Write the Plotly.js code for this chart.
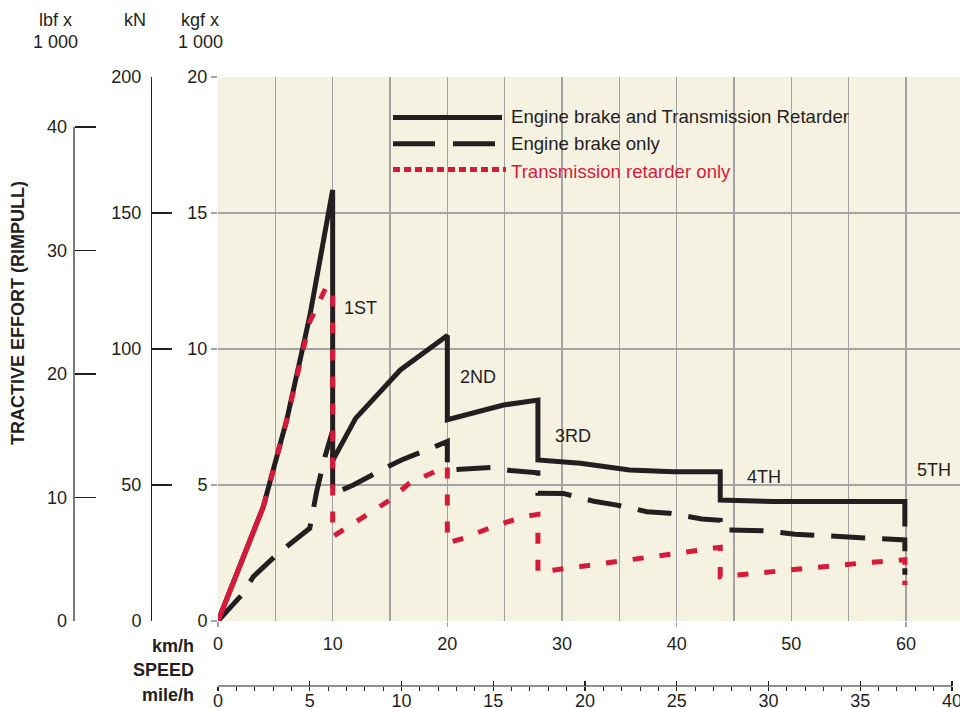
<!DOCTYPE html>
<html>
<head>
<meta charset="utf-8">
<script src="https://cdn.plot.ly/plotly-3.0.1.min.js"></script>
<style>
  html, body { margin: 0; padding: 0; background: #ffffff; }
  #chart { width: 960px; height: 708px; }
</style>
</head>
<body>
<div id="chart"></div>
<script>
// ---------- data (speed in km/h, effort in kN) ----------
const combinedKmh = [0, 3.95, 6.0, 8.0, 10, 10, 12.0, 15.9, 20, 20, 24.9, 27.9, 27.9, 31.6, 35.9, 39.7, 43.8, 43.8, 48.4, 59.9, 59.9];
const combinedKN  = [0, 42, 74, 112, 158.5, 59, 74.5, 92.3, 105, 74, 79.4, 81.2, 59.2, 58, 55.5, 54.9, 54.9, 44.5, 43.9, 43.9, 34.7];

const engineKmh = [0, 2.07, 3.08, 5.26, 8.0, 8.6, 9.33, 10, 10, 11.8, 14.7, 16.0, 19.07, 20, 20, 22.7, 24, 25.5, 27.9, 27.9, 30.1, 32.9, 34.8, 37.4, 39.4, 42.2, 43.8, 43.8, 47.6, 50.3, 51.8, 55, 56.6, 59.9, 59.9];
const engineKN  = [0, 9.6, 16.3, 24.9, 34.1, 47.5, 60.4, 70, 46.7, 50, 56.5, 59.2, 64.4, 66, 55.5, 56.1, 56.5, 55.3, 54.5, 47, 46.9, 43.9, 42.6, 40.2, 39.6, 37.5, 37, 33.5, 33.2, 31.9, 31.6, 30.8, 30.6, 29.8, 17];

const retarderKmh = [0, 3.95, 6.0, 8.0, 9.4, 10, 10, 12.7, 15, 16.7, 20, 20, 21.4, 24.0, 26.6, 27.9, 27.9, 31.6, 34, 36.4, 39.1, 41.4, 43.8, 43.8, 46.7, 49, 51.8, 54.1, 56.4, 59.9, 59.9];
const retarderKN  = [0, 42, 74, 110, 122.5, 122.5, 31, 38.3, 44.5, 50.7, 57, 28.7, 30.4, 34.7, 38.3, 39.2, 18, 20, 21.4, 22.8, 24.3, 25.7, 27.1, 16.3, 17.5, 18.5, 19.6, 20.6, 21.4, 22.5, 13.2];
const retarderSolidPoints = 2; // first segment drawn solid

const seriesNames = ['Engine brake and Transmission Retarder', 'Engine brake only', 'Transmission retarder only'];

const kmhTicks = [0, 10, 20, 30, 40, 50, 60];
const mphTicks = [0, 5, 10, 15, 20, 25, 30, 35, 40];
const knTicks = [0, 50, 100, 150, 200];
const kgfTickText = ['0', '5', '10', '15', '20'];
const lbfTicks = [0, 10, 20, 30, 40];

const gearLabels = ['1ST', '2ND', '3RD', '4TH', '5TH'];
const gearKmh = [10.8, 20.9, 29.2, 46.0, 60.8];
const gearKN = [115, 89.7, 68, 53, 55.5];

// ---------- styling ----------
const W = 960, H = 708;
const BLACK = '#231f20';
const RED = '#d71a3a';
const GRID = '#a3a3a3';
const FONT = 'Liberation Sans, Arial, Helvetica, sans-serif';
const px = v => v / W;          // horizontal pixel -> paper
const py = v => (H - v) / H;    // vertical pixel (from top) -> paper

const plotLeft = 218, plotRight = 960, plotTop = 77, plotBottom = 621;
const kmhPerPx = 60 / (906 - 218);
const xMax = (plotRight - plotLeft) * kmhPerPx;
const mphMax = 40 * (plotRight - plotLeft) / (952 - plotLeft);
const lbfMax = 40 * (plotBottom - plotTop) / (plotBottom - 127);

const traces = [
  { x: combinedKmh, y: combinedKN, mode: 'lines', name: seriesNames[0],
    line: { color: BLACK, width: 5 }, xaxis: 'x', yaxis: 'y' },
  { x: engineKmh, y: engineKN, mode: 'lines', name: seriesNames[1],
    line: { color: BLACK, width: 5, dash: '34px,17px' }, xaxis: 'x', yaxis: 'y' },
  { x: retarderKmh.slice(0, retarderSolidPoints), y: retarderKN.slice(0, retarderSolidPoints), mode: 'lines', name: seriesNames[2],
    line: { color: RED, width: 5 }, xaxis: 'x', yaxis: 'y' },
  { x: retarderKmh.slice(retarderSolidPoints - 1), y: retarderKN.slice(retarderSolidPoints - 1), mode: 'lines', name: seriesNames[2],
    line: { color: RED, width: 5, dash: '11px,16px' }, xaxis: 'x', yaxis: 'y' }
];
// empty traces so that the extra unit axes get drawn
[['x', 'y2'], ['x', 'y3'], ['x2', 'y'], ['x3', 'y'], ['x4', 'y']].forEach(p =>
  traces.push({ x: [null], y: [null], mode: 'lines', xaxis: p[0], yaxis: p[1], showlegend: false, hoverinfo: 'skip' }));

const tickFont = { family: FONT, size: 18, color: BLACK };
const boldFont = { family: FONT, size: 18, color: BLACK, weight: 700 };

const annotations = [];
gearLabels.forEach((t, i) => annotations.push({
  text: t, x: gearKmh[i], y: gearKN[i], xref: 'x', yref: 'y',
  xanchor: 'left', yanchor: 'middle', showarrow: false, font: tickFont
}));
// legend texts
const legendRows = [116, 143.5, 171];
const legendColors = [BLACK, BLACK, RED];
seriesNames.forEach((n, i) => annotations.push({
  text: n, x: px(509), y: py(legendRows[i]), xref: 'paper', yref: 'paper',
  xanchor: 'left', yanchor: 'middle', showarrow: false,
  font: { family: FONT, size: 18.6, color: legendColors[i] }
}));
// unit labels
[['lbf x', 55.5, 20], ['1 000', 55.5, 42], ['kN', 134.5, 20], ['kgf x', 200, 20], ['1 000', 200, 42]].forEach(a =>
  annotations.push({ text: a[0], x: px(a[1]), y: py(a[2]), xref: 'paper', yref: 'paper',
    xanchor: 'center', yanchor: 'middle', showarrow: false, font: tickFont }));
[['km/h', 646], ['SPEED', 670], ['mile/h', 695]].forEach(a =>
  annotations.push({ text: a[0], x: px(196), y: py(a[1]), xref: 'paper', yref: 'paper',
    xanchor: 'right', yanchor: 'middle', showarrow: false, font: boldFont }));
annotations.push({ text: 'TRACTIVE EFFORT (RIMPULL)', x: px(18), y: py(313), xref: 'paper', yref: 'paper',
  xanchor: 'center', yanchor: 'middle', textangle: -90, showarrow: false, font: boldFont });

const shapes = [
  // lbf axis line
  { type: 'line', xref: 'paper', yref: 'paper', x0: px(74), x1: px(74), y0: py(621), y1: py(127),
    line: { color: BLACK, width: 1.2 } },
  // mile/h axis line
  { type: 'line', xref: 'paper', yref: 'paper', x0: px(218), x1: px(952), y0: py(686), y1: py(686),
    line: { color: BLACK, width: 1.2 } },
  // legend samples
  { type: 'line', xref: 'paper', yref: 'paper', x0: px(393), x1: px(502), y0: py(117.5), y1: py(117.5),
    line: { color: BLACK, width: 5 } },
  { type: 'line', xref: 'paper', yref: 'paper', x0: px(393), x1: px(495), y0: py(143.7), y1: py(143.7),
    line: { color: BLACK, width: 5, dash: '42px,18px' } },
  { type: 'line', xref: 'paper', yref: 'paper', x0: px(393), x1: px(506), y0: py(169.5), y1: py(169.5),
    line: { color: RED, width: 5, dash: '7px,4px' } }
];

const layout = {
  width: W, height: H,
  margin: { l: 0, r: 0, t: 0, b: 0, pad: 0 },
  paper_bgcolor: '#ffffff',
  plot_bgcolor: '#f6f2e2',
  showlegend: false,
  hovermode: false,
  font: { family: FONT, size: 18, color: BLACK },
  xaxis: {
    domain: [px(plotLeft), 1], range: [0, xMax], anchor: 'y',
    tickmode: 'array', tickvals: kmhTicks, ticktext: kmhTicks.map(String),
    ticks: '', tickfont: tickFont, ticklabelstandoff: 10,
    showgrid: true, gridcolor: GRID, gridwidth: 1.6,
    minor: { tickmode: 'linear', tick0: 0, dtick: 5, showgrid: true, gridcolor: GRID, gridwidth: 1.6 },
    zeroline: false, showline: false, fixedrange: true
  },
  xaxis4: {
    overlaying: 'x', anchor: 'y', range: [0, xMax], side: 'bottom',
    tickmode: 'array', tickvals: [0, 20, 40, 60], ticks: 'outside', ticklen: 5,
    tickcolor: GRID, tickwidth: 1.6, showticklabels: false, showgrid: false, zeroline: false, showline: false
  },
  xaxis2: {
    overlaying: 'x', anchor: 'free', position: py(686), side: 'bottom', range: [0, mphMax],
    tickmode: 'array', tickvals: mphTicks, ticktext: mphTicks.map(String),
    ticks: 'outside', ticklen: 4, tickwidth: 1.2, tickcolor: BLACK, tickfont: tickFont,
    ticklabelstandoff: -6, ticklabeloverflow: 'allow',
    minor: { tickmode: 'linear', tick0: 0, dtick: 1, ticks: 'outside', ticklen: 4, tickwidth: 1, tickcolor: BLACK },
    showgrid: false, zeroline: false, showline: false
  },
  xaxis3: {
    overlaying: 'x', anchor: 'free', position: py(686), side: 'bottom', range: [0, mphMax],
    tickmode: 'array', tickvals: mphTicks, ticks: 'inside', ticklen: 5, tickwidth: 1.2, tickcolor: BLACK,
    showticklabels: false, showgrid: false, zeroline: false, showline: false
  },
  yaxis: {
    domain: [py(plotBottom), py(plotTop)], range: [0, 200], anchor: 'x',
    tickmode: 'array', tickvals: knTicks, ticktext: kgfTickText,
    ticks: 'outside', ticklen: 6, tickcolor: GRID, tickwidth: 1.6, tickfont: tickFont,
    showgrid: true, gridcolor: GRID, gridwidth: 1.6, zeroline: false, showline: false
  },
  yaxis2: {
    overlaying: 'y', anchor: 'free', position: px(151), side: 'left', range: [0, 200],
    tickmode: 'array', tickvals: knTicks, ticktext: knTicks.map(String),
    ticks: 'inside', ticklen: 20, tickcolor: BLACK, tickwidth: 1.2, tickfont: tickFont, ticklabelstandoff: 6,
    showline: true, linecolor: BLACK, linewidth: 1.2, showgrid: false, zeroline: false
  },
  yaxis3: {
    overlaying: 'y', anchor: 'free', position: px(74), side: 'left', range: [0, lbfMax],
    tickmode: 'array', tickvals: lbfTicks, ticktext: lbfTicks.map(String),
    ticks: 'inside', ticklen: 21, tickcolor: BLACK, tickwidth: 1.2, tickfont: tickFont, ticklabelstandoff: 7,
    showline: false, showgrid: false, zeroline: false
  },
  annotations: annotations,
  shapes: shapes
};

Plotly.newPlot('chart', traces, layout, { staticPlot: true, displayModeBar: false });
</script>
</body>
</html>
